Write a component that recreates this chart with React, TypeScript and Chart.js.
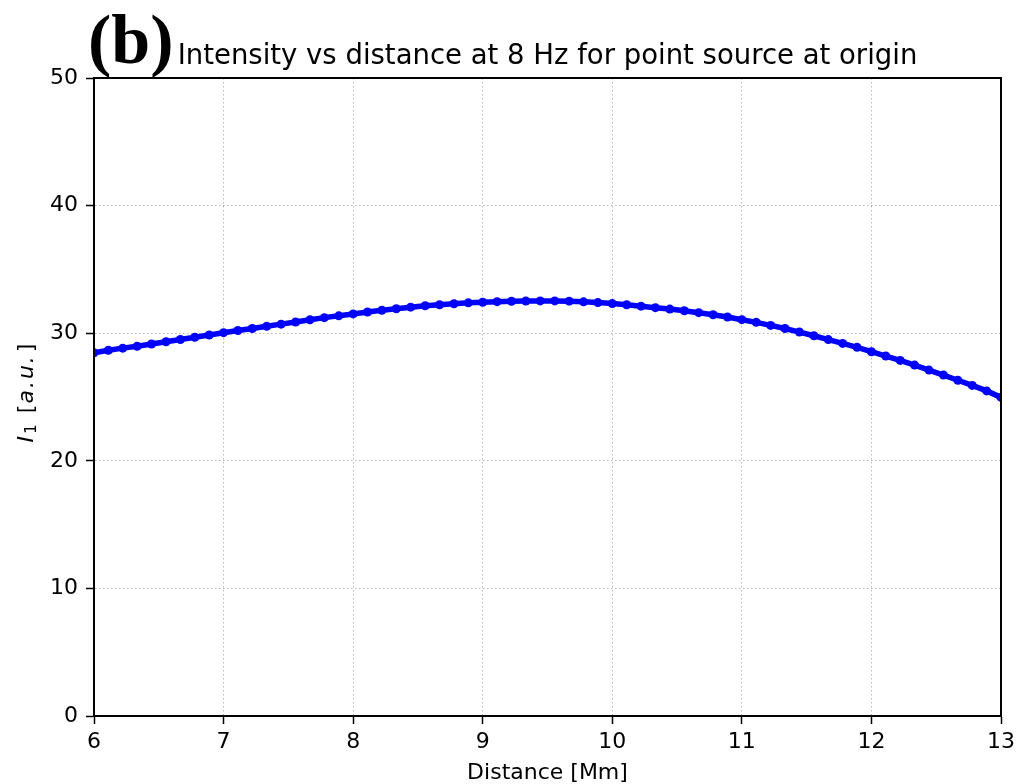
import React, { useEffect, useRef } from 'react';
import { Chart, registerables } from 'chart.js';

Chart.register(...registerables);

const TITLE = 'Intensity vs distance at 8 Hz for point source at origin';
const PANEL = '(b)';
const X_LABEL = 'Distance [Mm]';

const X_TICKS = [6, 7, 8, 9, 10, 11, 12, 13];
const Y_TICKS = [0, 10, 20, 30, 40, 50];

const DISTANCE = [
  6.0, 6.111, 6.222, 6.333, 6.444, 6.556, 6.667, 6.778, 6.889, 7.0,
  7.111, 7.222, 7.333, 7.444, 7.556, 7.667, 7.778, 7.889, 8.0, 8.111,
  8.222, 8.333, 8.444, 8.556, 8.667, 8.778, 8.889, 9.0, 9.111, 9.222,
  9.333, 9.444, 9.556, 9.667, 9.778, 9.889, 10.0, 10.111, 10.222, 10.333,
  10.444, 10.556, 10.667, 10.778, 10.889, 11.0, 11.111, 11.222, 11.333, 11.444,
  11.556, 11.667, 11.778, 11.889, 12.0, 12.111, 12.222, 12.333, 12.444, 12.556,
  12.667, 12.778, 12.889, 13.0,
];

const INTENSITY = [
  28.47, 28.66, 28.83, 28.98, 29.15, 29.33, 29.51, 29.68, 29.86, 30.04,
  30.21, 30.37, 30.54, 30.71, 30.88, 31.05, 31.22, 31.36, 31.51, 31.66,
  31.80, 31.92, 32.04, 32.15, 32.23, 32.31, 32.38, 32.43, 32.47, 32.50,
  32.52, 32.53, 32.53, 32.51, 32.46, 32.40, 32.32, 32.23, 32.12, 32.00,
  31.89, 31.76, 31.61, 31.45, 31.27, 31.06, 30.85, 30.61, 30.37, 30.09,
  29.80, 29.50, 29.20, 28.89, 28.55, 28.21, 27.87, 27.50, 27.11, 26.72,
  26.31, 25.91, 25.48, 24.97,
];

const FONT = '"DejaVu Sans", sans-serif';

const overlay = {
  id: 'overlay',
  beforeDraw(chart: any) {
    const { ctx, width, height } = chart;
    ctx.save();
    ctx.fillStyle = '#ffffff';
    ctx.fillRect(0, 0, width, height);
    ctx.restore();
  },
  afterDatasetsDraw(chart: any) {
    const { ctx, chartArea: a } = chart;
    ctx.save();
    // spines
    ctx.strokeStyle = '#000';
    ctx.lineWidth = 2;
    ctx.strokeRect(a.left, a.top, a.right - a.left, a.bottom - a.top);

    ctx.fillStyle = '#000';
    // title
    ctx.font = `27.5px ${FONT}`;
    ctx.textAlign = 'center';
    ctx.textBaseline = 'alphabetic';
    ctx.fillText(TITLE, (a.left + a.right) / 2, 64);

    // panel label
    ctx.font = 'bold 70px "Liberation Serif", serif';
    ctx.textAlign = 'left';
    ctx.fillText(PANEL, 88, 63);

    // x label
    ctx.font = `22px ${FONT}`;
    ctx.textAlign = 'center';
    ctx.fillText(X_LABEL, (a.left + a.right) / 2, 779);

    // y label (mathtext-like)
    const it = `italic 22px ${FONT}`;
    const rm = `22px ${FONT}`;
    const parts = [
      { t: 'I', f: it, dy: 0, gap: 2 },
      { t: '1', f: `15.4px ${FONT}`, dy: 3.5, gap: 4 },
      { t: ' [', f: rm, dy: 0, gap: 1 },
      { t: 'a', f: it, dy: 0, gap: 2 },
      { t: '.', f: it, dy: 0, gap: 2 },
      { t: 'u', f: it, dy: 0, gap: 2 },
      { t: '.', f: it, dy: 0, gap: 4 },
      { t: ']', f: rm, dy: 0, gap: 0 },
    ];
    let total = 0;
    const widths = parts.map((p) => {
      ctx.font = p.f;
      const w = ctx.measureText(p.t).width + p.gap;
      total += w;
      return w;
    });
    ctx.translate(32.5, 393);
    ctx.rotate(-Math.PI / 2);
    ctx.textAlign = 'left';
    let x = -total / 2;
    parts.forEach((p, i) => {
      ctx.font = p.f;
      ctx.fillText(p.t, x, p.dy);
      x += widths[i];
    });
    ctx.restore();
  },
};

export default function App() {
  const ref = useRef<HTMLCanvasElement>(null);

  useEffect(() => {
    document.body.style.margin = '0';
    const canvas = ref.current;
    if (!canvas) return;

    const axisCommon = {
      grid: {
        color: '#b8b8b8',
        lineWidth: 1,
        tickColor: '#000',
        tickLength: 8,
        tickWidth: 1.5,
        tickBorderDash: [],
      },
      border: { display: true, color: '#000', width: 2, dash: [1.5, 2.5] },
    };

    const chart = new Chart(canvas, {
      type: 'line',
      data: {
        datasets: [
          {
            data: DISTANCE.map((d, i) => ({ x: d, y: INTENSITY[i] })),
            borderColor: '#0000ff',
            backgroundColor: '#0000ff',
            borderWidth: 5.5,
            pointRadius: 4.5,
            pointBorderWidth: 0,
            pointBackgroundColor: '#0000ff',
            tension: 0,
            clip: 0,
          } as any,
        ],
      },
      options: {
        responsive: false,
        animation: false,
        devicePixelRatio: 1,
        layout: { padding: { top: 78, right: 18, left: 0, bottom: 0 } },
        plugins: {
          legend: { display: false },
          tooltip: { enabled: false },
          title: { display: false },
        },
        scales: {
          x: {
            type: 'linear',
            min: 6,
            max: 13,
            afterBuildTicks: (s: any) => {
              s.ticks = X_TICKS.map((v) => ({ value: v }));
            },
            afterFit: (s: any) => {
              s.height = 68;
            },
            ticks: {
              autoSkip: false,
              maxRotation: 0,
              padding: 5,
              color: '#000',
              font: { family: 'DejaVu Sans', size: 22 },
              callback: (v: any) => String(v),
            },
            ...axisCommon,
          } as any,
          y: {
            type: 'linear',
            min: 0,
            max: 50,
            afterBuildTicks: (s: any) => {
              s.ticks = Y_TICKS.map((v) => ({ value: v }));
            },
            afterFit: (s: any) => {
              s.width = 94;
            },
            ticks: {
              autoSkip: false,
              padding: 8,
              color: '#000',
              font: { family: 'DejaVu Sans', size: 22 },
              callback: (v: any) => String(v),
            },
            ...axisCommon,
          } as any,
        },
      },
      plugins: [overlay],
    });

    return () => chart.destroy();
  }, []);

  return (
    <div style={{ position: 'absolute', left: 0, top: 0, width: 1020, height: 784, background: '#fff' }}>
      <canvas ref={ref} width={1020} height={784} style={{ display: 'block' }} />
    </div>
  );
}
